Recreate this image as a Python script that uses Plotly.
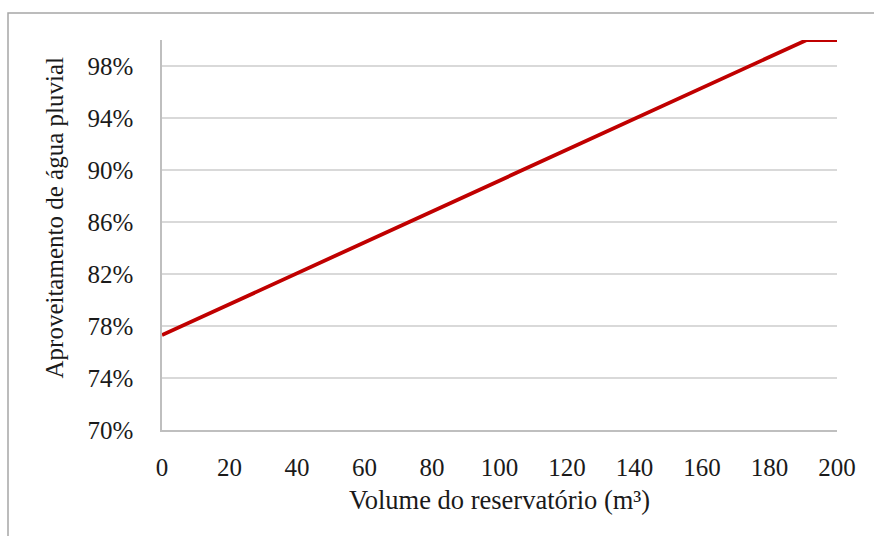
import plotly.graph_objects as go

# Data
volume_m3 = [0, 10, 20, 30, 40, 50, 60, 70, 80, 90, 100, 110, 120, 130, 140, 150, 160, 170, 180, 190, 191, 200]
aproveitamento = [0.7730, 0.7849, 0.7968, 0.8086, 0.8205, 0.8324, 0.8443, 0.8562, 0.8680, 0.8799, 0.8918,
                  0.9037, 0.9156, 0.9274, 0.9393, 0.9512, 0.9631, 0.9750, 0.9868, 0.9987, 1.000, 1.000]
y_ticks = [0.70, 0.74, 0.78, 0.82, 0.86, 0.90, 0.94, 0.98]
x_ticks = [0, 20, 40, 60, 80, 100, 120, 140, 160, 180, 200]

W, H = 874, 536
L, R, T, B = 162, 37, 40, 106
pw, ph = W - L - R, H - T - B

def px(x):
    return (x - L) / pw

def py(y):
    return (H - B - y) / ph

FONT = "Liberation Serif, Times New Roman, serif"

fig = go.Figure()
fig.add_trace(go.Scatter(
    x=volume_m3, y=aproveitamento, mode="lines",
    line=dict(color="#c00000", width=3.8),
    showlegend=False, hoverinfo="skip",
))

fig.update_layout(
    width=W, height=H,
    margin=dict(l=L, r=R, t=T, b=B),
    paper_bgcolor="white", plot_bgcolor="white",
    font=dict(family=FONT, size=25, color="#1a1a1a"),
    xaxis=dict(
        range=[0, 200], tickvals=x_ticks, showgrid=False, zeroline=False,
        showline=True, linecolor="#bfbfbf", linewidth=1.5,
        ticks="", ticklabelstandoff=14,
        tickfont=dict(family=FONT, size=25, color="#1a1a1a"),
    ),
    yaxis=dict(
        range=[0.70, 1.00], tickvals=y_ticks, tickformat=".0%",
        showgrid=True, gridcolor="#d9d9d9", gridwidth=1.5, zeroline=False,
        showline=True, linecolor="#bfbfbf", linewidth=1.5,
        ticks="", ticklabelstandoff=22,
        tickfont=dict(family=FONT, size=25, color="#1a1a1a"),
    ),
    annotations=[
        dict(text="Volume do reservatório (m³)", xref="paper", yref="paper",
             x=0.5, y=py(500), xanchor="center", yanchor="middle", showarrow=False,
             font=dict(family=FONT, size=26.5, color="#1a1a1a")),
        dict(text="Aproveitamento de água pluvial", xref="paper", yref="paper",
             x=px(54), y=py(218.5), xanchor="center", yanchor="middle", textangle=-90,
             showarrow=False, font=dict(family=FONT, size=25, color="#1a1a1a")),
    ],
    shapes=[
        dict(type="path", xref="paper", yref="paper",
             path=f"M {px(8)} {py(H + 5)} L {px(8)} {py(13)} L {px(W + 5)} {py(13)}",
             line=dict(color="#a6a6a6", width=1.5)),
    ],
)

fig.write_html("out.html", config={"displayModeBar": False})

# remove the default page margin so the figure sits at the window origin
with open("out.html", "r", encoding="utf-8") as f:
    html = f.read()
html = html.replace("<head>", "<head><style>html,body{margin:0;padding:0;overflow:hidden;}</style>", 1)
with open("out.html", "w", encoding="utf-8") as f:
    f.write(html)
